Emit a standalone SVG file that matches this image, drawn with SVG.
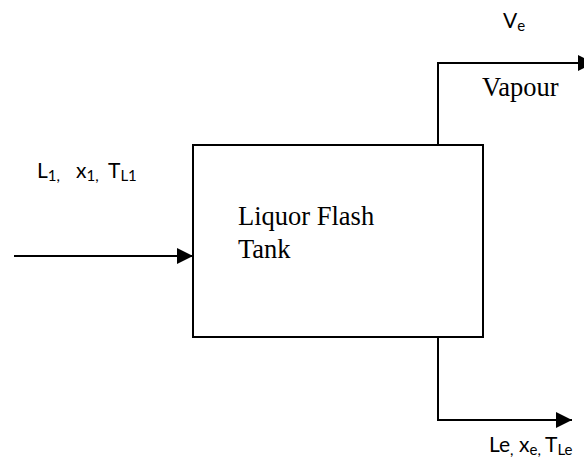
<svg xmlns="http://www.w3.org/2000/svg" width="584" height="461" viewBox="0 0 584 461">
<style>
.ln{fill:none;stroke:#000;stroke-width:2}
.sans{font-family:Lato,"Liberation Sans",sans-serif;font-size:21px;fill:#000}
.sub{font-size:15px}
.serif{font-family:"Liberation Serif","Times New Roman",serif;font-size:26.5px;fill:#000}
</style>
<defs>
<marker id="ah" markerWidth="16" markerHeight="16" refX="16" refY="8" orient="auto" markerUnits="userSpaceOnUse">
<path d="M0,0 L16,8 L0,16 Z" fill="#000"/>
</marker>
</defs>
<rect width="584" height="461" fill="#fff"/>
<g id="tank">
<rect x="193" y="145" width="290" height="192" class="ln"/>
<text class="serif" x="238" y="225">Liquor Flash</text>
<text class="serif" x="238" y="258">Tank</text>
</g>
<g id="connectors">
<path class="ln" d="M14,256 H193" marker-end="url(#ah)"/>
<path class="ln" d="M438,145 V63 H594" marker-end="url(#ah)"/>
<path class="ln" d="M438,337 V420 H572" marker-end="url(#ah)"/>
</g>
<g id="labels">
<text class="sans" x="37" y="178">L<tspan class="sub" dy="3">1,</tspan><tspan x="76" dy="-3">x</tspan><tspan class="sub" dy="3">1,</tspan><tspan x="108" dy="-3">T</tspan><tspan class="sub" dy="3">L1</tspan></text>
<text class="sans" x="503" y="28">V<tspan class="sub" dy="3">e</tspan></text>
<text class="serif" x="482" y="96">Vapour</text>
<text class="sans" x="489" y="452">Le<tspan class="sub" dy="3">,</tspan><tspan x="519" dy="-3">x</tspan><tspan class="sub" dy="3">e,</tspan><tspan x="545" dy="-3">T</tspan><tspan class="sub" dy="3">Le</tspan></text>
</g>
</svg>
